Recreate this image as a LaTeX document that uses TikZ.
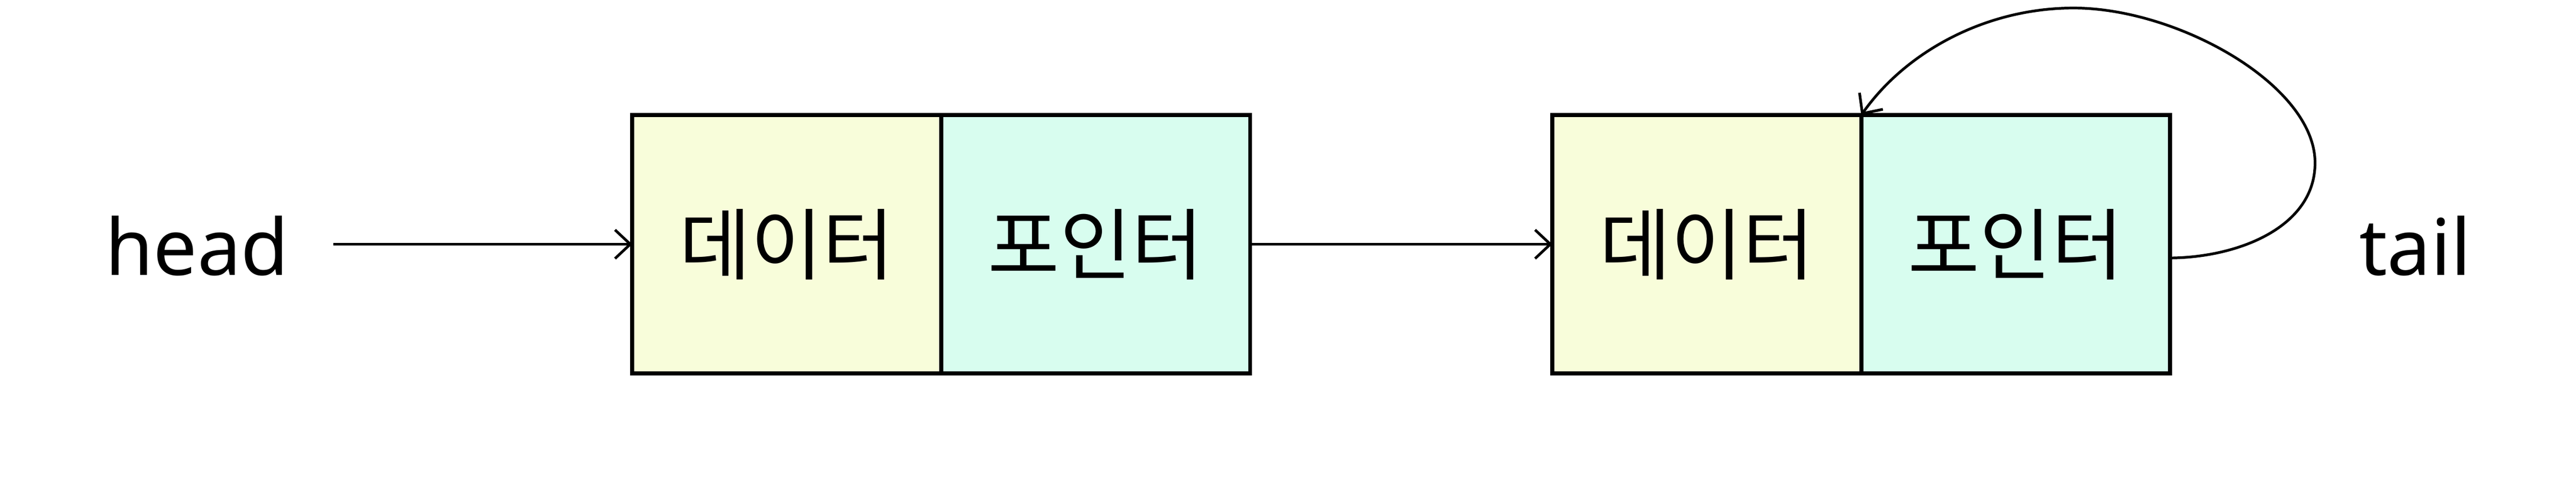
\documentclass[tikz,border=0pt]{standalone}
\usepackage{fontspec}
\setmainfont{Noto Sans}
\newfontfamily\kr{Noto Sans CJK KR}
\usepackage{xcolor}
\usepackage{tikz}
\usetikzlibrary{positioning, arrows.meta}

\definecolor{datafill}{HTML}{F8FDDA}
\definecolor{ptrfill}{HTML}{D8FDEF}

\begin{document}
\begin{tikzpicture}[
  cell/.style={rectangle, draw, line width=3pt, outer sep=0pt, minimum width=8.085cm, minimum height=6.75cm, align=center, font=\kr\fontsize{58pt}{62pt}\selectfont},
  datacell/.style={cell, fill=datafill},
  ptrcell/.style={cell, fill=ptrfill},
  label/.style={font=\fontsize{58pt}{64pt}\selectfont},
  arrow/.style={-{Straight Barb[length=0.4cm, width=0.75cm]}, line width=2pt}
]
  \useasboundingbox (0,0) rectangle (67.42,12.83);

  \node[datacell] (d1) at (20.59,6.445) {데이터};
  \node[ptrcell, right=0cm of d1] (p1) {포인터};
  \node[datacell, right=7.91cm of p1] (d2) {데이터};
  \node[ptrcell, right=0cm of d2] (p2) {포인터};

  \node[label] (head) at (5.16,6.40) {head};
  \node[label] (tail) at (63.21,6.40) {tail};

  \coordinate (hs) at (8.73,6.445);
  \coordinate (ls) at ([yshift=-0.36cm]p2.east);

  \draw[arrow] (hs) -- (d1.west);
  \draw[arrow] (p1.east) -- (d2.west);

  % self loop on the last node
  \draw[arrow] (ls) .. controls (58.6,6.1) and (60.59,6.9) .. (60.59,8.57)
    .. controls (60.59,10.6) and (57.0,12.62) .. (54.27,12.62)
    .. controls (52.0,12.62) and (49.9,11.5) .. (p2.north west);
\end{tikzpicture}
\end{document}
